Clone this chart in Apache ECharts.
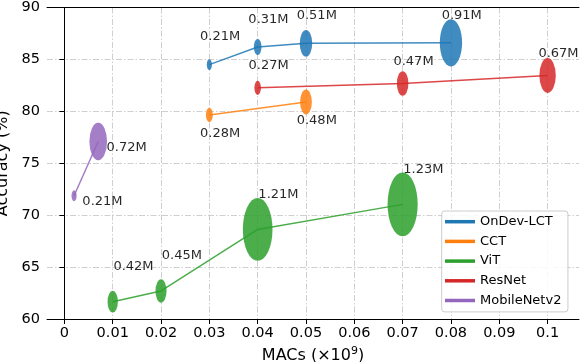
<!DOCTYPE html>
<html>
<head>
<meta charset="utf-8">
<script src="https://cdn.jsdelivr.net/npm/echarts@6/dist/echarts.min.js"></script>
<style>
  html, body { margin: 0; padding: 0; background: #fff; }
  #chart { width: 582px; height: 362px; }
</style>
</head>
<body>
<div id="chart"></div>
<script>
// values: MACs (x1e9), accuracy (%), params (M)
const lctMacs = [0.03, 0.04, 0.05, 0.08];
const lctAcc = [84.5, 86.2, 86.55, 86.6];
const lctParams = [0.21, 0.31, 0.51, 0.91];

const cctMacs = [0.03, 0.05];
const cctAcc = [79.65, 80.9];
const cctParams = [0.28, 0.48];

const vitMacs = [0.01, 0.02, 0.04, 0.07];
const vitAcc = [61.67, 62.7, 68.63, 71.04];
const vitParams = [0.42, 0.45, 1.21, 1.23];

const resMacs = [0.04, 0.07, 0.1];
const resAcc = [82.26, 82.68, 83.45];
const resParams = [0.27, 0.47, 0.67];

const mbMacs = [0.002, 0.007];
const mbAcc = [71.87, 77.1];
const mbParams = [0.21, 0.72];

const xTicks = [0, 0.01, 0.02, 0.03, 0.04, 0.05, 0.06, 0.07, 0.08, 0.09, 0.1];

const FONT = 'DejaVu Sans';
const ELLIPSE = 'path://M0,1A1,1,0,1,1,2,1A1,1,0,1,1,0,1Z';
const X_MIN = -0.0036, X_MAX = 0.1065;

// name, color, macs, acc, params, label offset (px)
const groups = [
    ['OnDev-LCT', '#1f77b4', lctMacs, lctAcc, lctParams, [-9.3, -27.5]],
    ['CCT', '#ff7f0e', cctMacs, cctAcc, cctParams, [-9.3, 18.3]],
    ['ViT', '#2ca02c', vitMacs, vitAcc, vitParams, [0.7, -35]],
    ['ResNet', '#d62728', resMacs, resAcc, resParams, [-9.2, -22.3]],
    ['MobileNetv2', '#9467bd', mbMacs, mbAcc, mbParams, [8.3, 6]]
];

let series = [];
groups.forEach(g => {
    let [name, color, macs, acc] = g;
    series.push({
        name: name,
        type: 'line',
        z: 4,
        showSymbol: false,
        silent: true,
        color: color,
        lineStyle: { width: 1.5, color: color, opacity: 0.85 },
        data: macs.map((m, i) => [m, acc[i]])
    });
});
groups.forEach(g => {
    let [name, color, macs, acc, params, off] = g;
    series.push({
        name: name,
        type: 'scatter',
        z: 2,
        symbol: ELLIPSE,
        symbolSize: v => [24.5 * v[2], 52 * v[2]],
        itemStyle: { color: color, opacity: 0.85 },
        label: {
            show: true,
            position: 'inside',
            align: 'left',
            verticalAlign: 'middle',
            offset: off,
            color: '#000',
            fontFamily: FONT,
            fontSize: 13,
            formatter: p => p.value[2] + 'M'
        },
        data: macs.map((m, i) => [m, acc[i], params[i]])
    });
});

const gridLine = { show: true, lineStyle: { color: '#cfcfcf', width: 1, type: [6, 2, 1.5, 2] } };
const frameAxis = { show: true, lineStyle: { color: '#000', width: 1 } };

let myChart = echarts.init(document.getElementById('chart'), null, { renderer: 'canvas' });
myChart.setOption({
    animation: false,
    backgroundColor: '#fff',
    grid: {
        left: 47,
        right: 3,
        top: 7.5,
        bottom: 43,
        outerBoundsMode: 'none',
        containLabel: false
    },
    legend: {
        data: groups.map(g => g[0]),
        orient: 'vertical',
        left: 441.7,
        top: 211,
        icon: 'rect',
        itemWidth: 30,
        itemHeight: 3.5,
        itemGap: 5.7,
        padding: [3.7, 6.5, 4.4, 3.3],
        backgroundColor: 'rgba(255,255,255,0.85)',
        borderColor: '#cccccc',
        borderWidth: 1,
        borderRadius: 3,
        textStyle: { fontFamily: FONT, fontSize: 13, color: '#000', lineHeight: 14 }
    },
    xAxis: [{
        type: 'value',
        min: X_MIN,
        max: X_MAX,
        name: 'MACs (×10{sup|9})',
        nameLocation: 'middle',
        nameGap: 25,
        nameTextStyle: {
            fontFamily: FONT, fontSize: 16, color: '#000',
            rich: { sup: { fontFamily: FONT, fontSize: 11, color: '#000', verticalAlign: 'top', padding: [0, 0, 8, 0] } }
        },
        axisLine: frameAxis,
        axisTick: { show: true, length: 5, customValues: xTicks, lineStyle: { color: '#000' } },
        axisLabel: {
            customValues: xTicks,
            margin: 7,
            fontFamily: FONT,
            fontSize: 14.5,
            color: '#000',
            formatter: v => String(+v.toFixed(3))
        },
        splitLine: gridLine
    }, {
        type: 'value',
        position: 'top',
        min: X_MIN,
        max: X_MAX,
        axisLine: frameAxis,
        axisTick: { show: false },
        axisLabel: { show: false },
        splitLine: { show: false }
    }],
    yAxis: [{
        type: 'value',
        min: 60,
        max: 90,
        interval: 5,
        name: 'Accuracy (%)',
        nameLocation: 'middle',
        nameGap: 30,
        nameTextStyle: { fontFamily: FONT, fontSize: 16, color: '#000' },
        axisLine: frameAxis,
        axisTick: { show: true, length: 5, lineStyle: { color: '#000' } },
        axisLabel: { margin: 7, fontFamily: FONT, fontSize: 14.5, color: '#000' },
        splitLine: gridLine
    }, {
        type: 'value',
        position: 'right',
        min: 60,
        max: 90,
        axisLine: frameAxis,
        axisTick: { show: false },
        axisLabel: { show: false },
        splitLine: { show: false }
    }],
    series: series
});
</script>
</body>
</html>
